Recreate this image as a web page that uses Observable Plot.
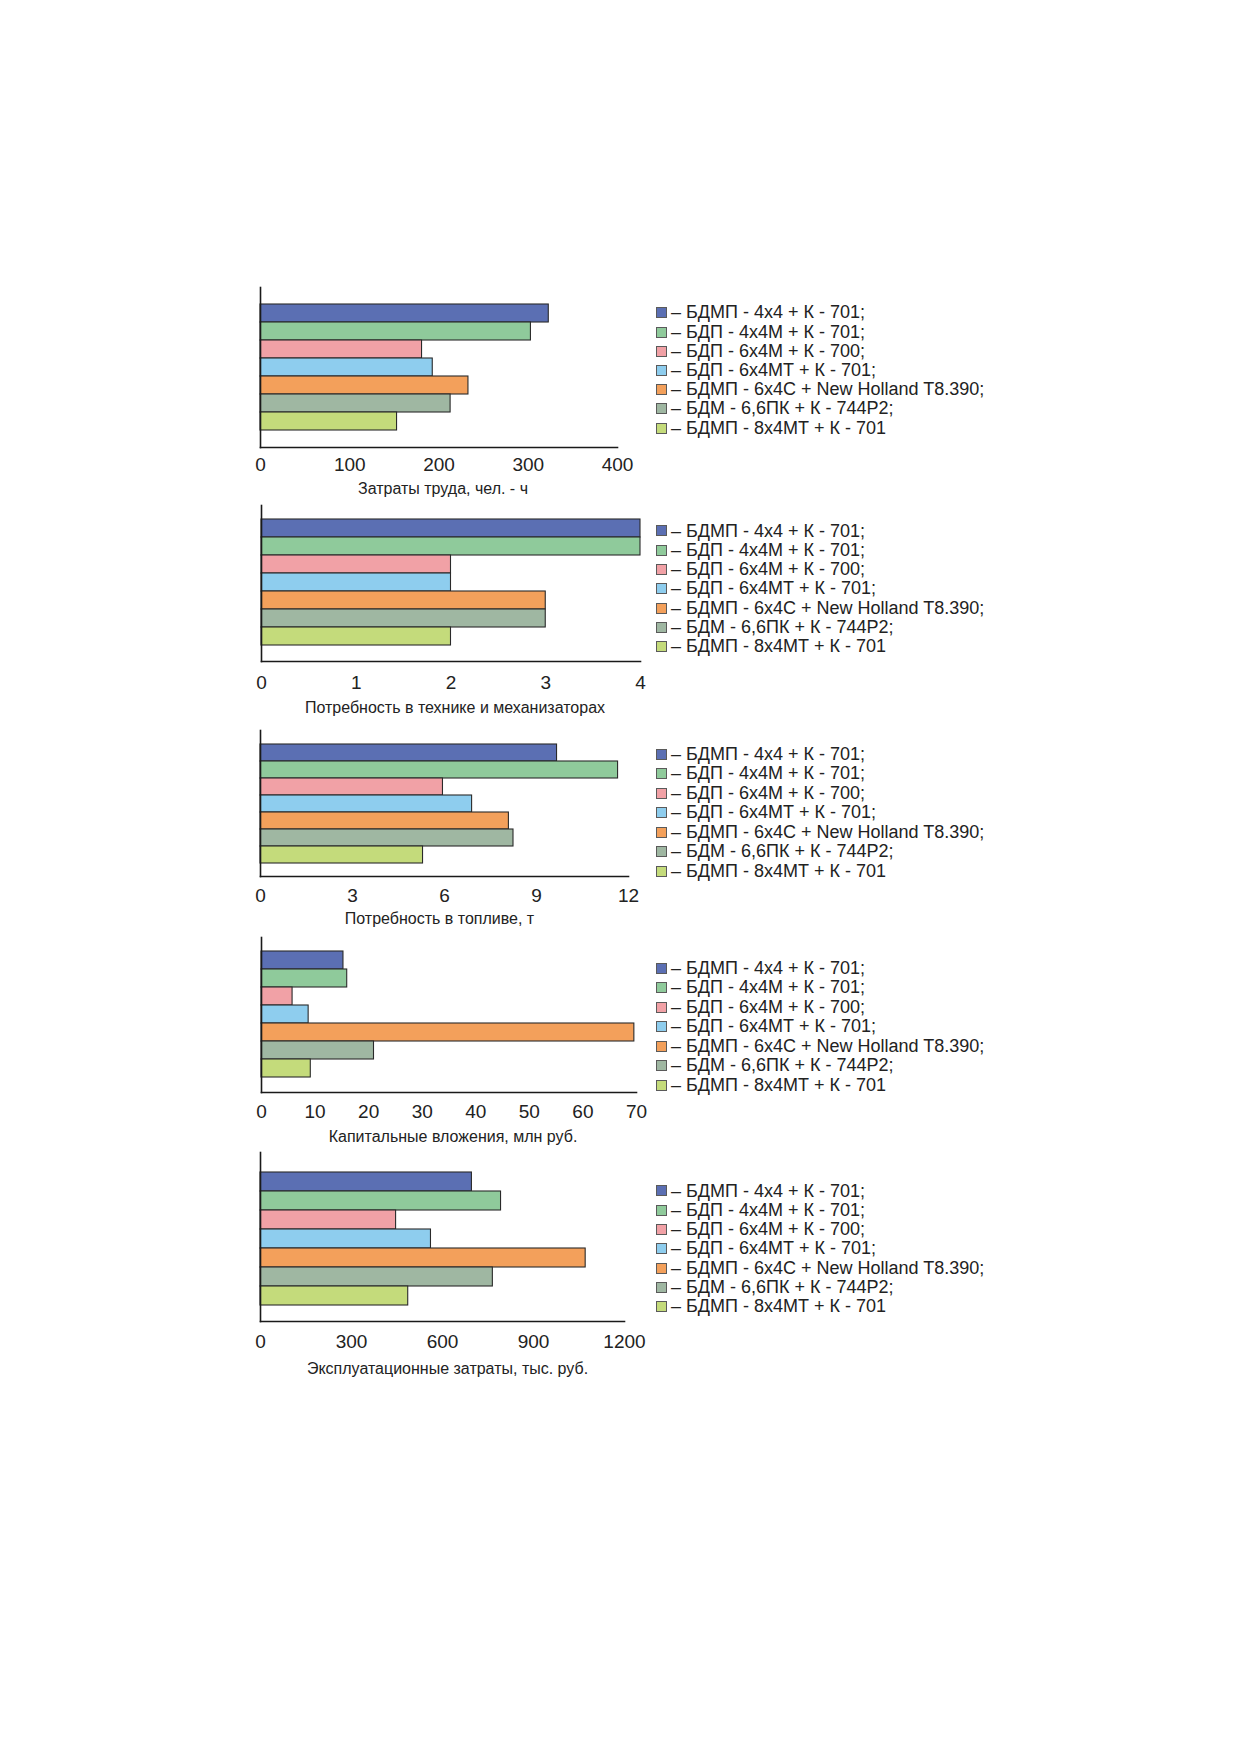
<!DOCTYPE html>
<html>
<head>
<meta charset="utf-8">
<script src="https://cdn.jsdelivr.net/npm/d3@7"></script>
<script src="https://cdn.jsdelivr.net/npm/@observablehq/plot@0.6"></script>
<style>
  html, body { margin: 0; padding: 0; background: #fff; }
  #page { position: relative; width: 1239px; height: 1754px; background: #fff; overflow: hidden;
          font-family: "Liberation Sans", Arial, sans-serif; color: #222; }
  .chart { position: absolute; left: 0; }
  .legend { position: absolute; left: 656px; font-size: 18px; color: #222; white-space: nowrap; }
  .legend .row { display: flex; align-items: center; }
  .legend .sw { width: 9px; height: 9px; border: 1px solid #5a5a5a; margin-right: 4px; flex: none; }
</style>
</head>
<body>
<div id="page"></div>
<script>
// ---- data ----
const categories = [
  "БДМП - 4x4 + К - 701",
  "БДП - 4x4М + К - 701",
  "БДП - 6x4М + К - 700",
  "БДП - 6x4МТ + К - 701",
  "БДМП - 6x4С + New Holland T8.390",
  "БДМ - 6,6ПК + К - 744Р2",
  "БДМП - 8x4МТ + К - 701"
];
const colors = ["#5b6fb3", "#8fca9b", "#f1a1a6", "#8ecdee", "#f3a05b", "#9fb7a2", "#c4db7b"];

const labor     = [323, 303, 181, 193, 233, 213, 153];
const machinery = [4, 4, 2, 2, 3, 3, 2];
const fuel      = [9.67, 11.66, 5.95, 6.9, 8.1, 8.25, 5.3];
const capital   = [15.3, 16, 5.8, 8.8, 69.6, 21, 9.2];
const operating = [697, 793, 447, 562, 1072, 766, 487];

const laborTicks     = [0, 100, 200, 300, 400];
const machineryTicks = [0, 1, 2, 3, 4];
const fuelTicks      = [0, 3, 6, 9, 12];
const capitalTicks   = [0, 10, 20, 30, 40, 50, 60, 70];
const operatingTicks = [0, 300, 600, 900, 1200];

const titles = [
  "Затраты труда, чел. - ч",
  "Потребность в технике и механизаторах",
  "Потребность в топливе, т",
  "Капитальные вложения, млн руб.",
  "Эксплуатационные затраты, тыс. руб."
];

// ---- layout ----
const layouts = [
  {values: labor,     ticks: laborTicks,     x0: 260, x1: 617, top: 287,  bottom: 447,  barTop: 301,  barBottom: 433,  tickPad: 10, titleDy: 46, titleDx: 4,  legendY: 313,  step: 19.2},
  {values: machinery, ticks: machineryTicks, x0: 261, x1: 640, top: 505,  bottom: 661,  barTop: 517,  barBottom: 647,  tickPad: 14, titleDy: 51, titleDx: 4,  legendY: 531,  step: 19.33},
  {values: fuel,      ticks: fuelTicks,      x0: 260, x1: 628, top: 730,  bottom: 876,  barTop: 743,  barBottom: 864,  tickPad: 12, titleDy: 47, titleDx: -5, legendY: 754,  step: 19.5},
  {values: capital,   ticks: capitalTicks,   x0: 261, x1: 636, top: 937,  bottom: 1092, barTop: 951,  barBottom: 1077, tickPad: 12, titleDy: 49, titleDx: 4,  legendY: 968,  step: 19.5},
  {values: operating, ticks: operatingTicks, x0: 260, x1: 624, top: 1152, bottom: 1321, barTop: 1169, barBottom: 1307, tickPad: 13, titleDy: 52, titleDx: 5,  legendY: 1191, step: 19.33}
];

const page = document.getElementById("page");
const W = 700, MT = 10, MB = 75;
const fmt = d3.format("d");

layouts.forEach((L, k) => {
  const data = categories.map((c, i) => ({category: c, value: L.values[i]}));
  const frameH = L.bottom - L.top;
  const plot = Plot.plot({
    width: W,
    height: MT + frameH + MB,
    marginLeft: L.x0,
    marginRight: W - L.x1,
    marginTop: MT,
    marginBottom: MB,
    style: {fontFamily: "'Liberation Sans', Arial, sans-serif", background: "transparent", color: "#222", overflow: "visible"},
    x: {domain: [L.ticks[0], L.ticks[L.ticks.length - 1]], ticks: L.ticks, label: null},
    y: {domain: categories, padding: 0, insetTop: L.barTop - L.top, insetBottom: L.bottom - L.barBottom, axis: null},
    color: {domain: categories, range: colors},
    marks: [
      Plot.barX(data, {x: "value", y: "category", fill: "category", stroke: "#2a2a2a", strokeWidth: 1.1}),
      Plot.frame({anchor: "left", stroke: "#1a1a1a", strokeWidth: 1.6}),
      Plot.frame({anchor: "bottom", stroke: "#1a1a1a", strokeWidth: 1.6}),
      Plot.axisX({ticks: L.ticks, tickFormat: fmt, tickSize: 0, tickPadding: L.tickPad, fontSize: 19, label: null, fill: "#222"}),
      Plot.text([titles[k]], {frameAnchor: "bottom", dy: L.titleDy, dx: L.titleDx, fontSize: 16, fill: "#222"})
    ]
  });
  plot.classList.add("chart");
  plot.style.top = (L.top - MT) + "px";
  page.appendChild(plot);

  const leg = document.createElement("div");
  leg.className = "legend";
  leg.style.top = (L.legendY - L.step / 2) + "px";
  categories.forEach((c, i) => {
    const row = document.createElement("div");
    row.className = "row";
    row.style.height = L.step + "px";
    const sw = document.createElement("span");
    sw.className = "sw";
    sw.style.background = colors[i];
    const t = document.createElement("span");
    t.textContent = "– " + c + (i < categories.length - 1 ? ";" : "");
    row.appendChild(sw);
    row.appendChild(t);
    leg.appendChild(row);
  });
  page.appendChild(leg);
});
</script>
</body>
</html>
